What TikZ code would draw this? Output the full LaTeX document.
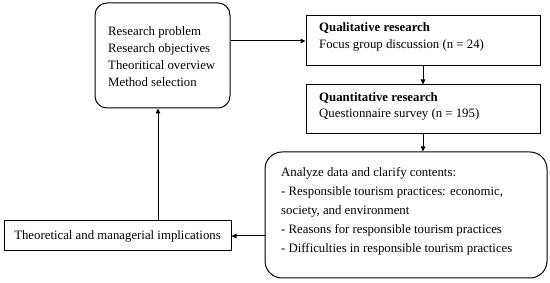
\documentclass[tikz,border=0pt]{standalone}
\usepackage{fontspec}
\setmainfont{Liberation Serif}
\usetikzlibrary{arrows.meta,positioning}

\begin{document}
\begin{tikzpicture}[
          x=1pt,y=1pt,
          >={Triangle[length=5pt,width=4.5pt]},
          flow/.style={->,line width=1pt},
          stagebox/.style={draw,line width=1pt,inner sep=0pt},
          roundbox/.style={stagebox,rounded corners=12pt},
          boxtext/.style={anchor=north west,inner sep=0pt,align=left,font=\fontsize{12.8}{17}\selectfont}
        ]
        \path[use as bounding box] (0,0) rectangle (550,283);
        % boxes
        \node[roundbox,minimum width=135,minimum height=105] (design) at (162.5,227.5) {};
        \node[stagebox,minimum width=234,minimum height=50] (qual) at (423,242) {};
        \node[stagebox,minimum width=234,minimum height=49] (quant) at (423,173.5) {};
        \node[roundbox,rounded corners=17pt,minimum width=282,minimum height=126] (analysis) at (406,68) {};
        \node[stagebox,minimum width=227,minimum height=30,font=\fontsize{12.8}{14}\selectfont] (implic) at (117.5,47) {Theoretical and managerial implications};

        % box texts
        \node[boxtext] (designtext) at (108,257) {Research problem\\Research objectives\\Theoritical overview\\Method selection};
        \node[boxtext] (qualtext) at (319,261) {\textbf{Qualitative research}\\Focus group discussion (n = 24)};
        \node[boxtext,font=\fontsize{12.8}{16}\selectfont] (quanttext) at (319,191) {\textbf{Quantitative research}\\Questionnaire survey (n = 195)};
        \node[boxtext,font=\fontsize{12.8}{19}\selectfont] (analysistext) at (281,116) {Analyze data and clarify contents:\\- Responsible tourism practices: economic,\\society, and environment\\- Reasons for responsible tourism practices\\- Difficulties in responsible tourism practices};

        % connectors
        \coordinate (uplink) at (158,0);
        \draw[flow] (design.east |- qual.west) -- (qual.west);
        \draw[flow] (qual.south) -- (quant.north);
        \draw[flow] (quant.south) -- (quant.south |- analysis.north);
        \draw[flow] (analysis.west |- implic.east) -- (implic.east);
        \draw[flow] (implic.north -| uplink) -- (design.south -| uplink);

      \end{tikzpicture}
\end{document}
